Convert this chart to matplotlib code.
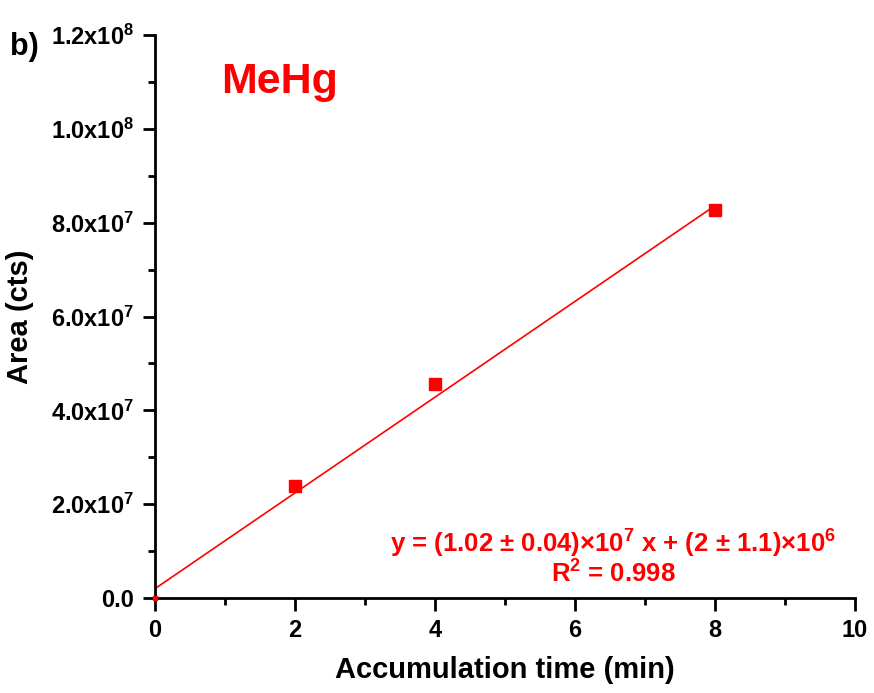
import numpy as np
import matplotlib
matplotlib.use('Agg')
from matplotlib import pyplot as plt
from matplotlib.ticker import FuncFormatter, MultipleLocator

plt.rcParams['font.family'] = ['Liberation Sans', 'DejaVu Sans']
plt.rcParams['font.weight'] = 'bold'
plt.rcParams['mathtext.fontset'] = 'custom'
plt.rcParams['mathtext.rm'] = 'Liberation Sans:bold'
plt.rcParams['mathtext.bf'] = 'Liberation Sans:bold'
plt.rcParams['mathtext.it'] = 'Liberation Sans:bold'

# accumulation time (min) and peak area (cts)
time_min = [0, 2, 4, 8]
area_cts = [0, 2.39e7, 4.56e7, 8.26e7]

# fit reported on the chart
slope = 1.02e7
intercept = 2e6
fit_x = np.array([0, 8])

red = '#ff0000'

fig = plt.figure(figsize=(8.74, 6.93), dpi=100)
ax = fig.add_axes([0.1773, 0.137, 0.8007, 0.8125])

ax.plot(fit_x, slope * fit_x + intercept, color=red, lw=1.2, zorder=2)
ax.plot(time_min[1:], area_cts[1:], 's', color=red, ms=8.5, zorder=3)
ax.plot(time_min[:1], area_cts[:1], 's', color=red, ms=2.5, zorder=3, clip_on=False)

ax.set_xlim(0, 10)
ax.set_ylim(0, 1.2e8)
ax.xaxis.set_major_locator(MultipleLocator(2))
ax.xaxis.set_minor_locator(MultipleLocator(1))
ax.yaxis.set_major_locator(MultipleLocator(2e7))
ax.yaxis.set_minor_locator(MultipleLocator(1e7))


def sci_fmt(v, pos):
    if v == 0:
        return '0.0'
    e = int(np.floor(np.log10(abs(v))))
    m = v / 10 ** e
    return r'$\mathbf{%.1fx10^{%d}}$' % (m, e)


ax.yaxis.set_major_formatter(FuncFormatter(sci_fmt))

for s in ['top', 'right']:
    ax.spines[s].set_visible(False)
for s in ['left', 'bottom']:
    ax.spines[s].set_linewidth(2)

ax.tick_params(which='major', direction='out', length=9, width=2, labelsize=17, pad=6)
ax.tick_params(which='minor', direction='out', length=5, width=2)
for lab in ax.get_xticklabels() + ax.get_yticklabels():
    lab.set_fontweight('bold')

ax.set_xlabel('Accumulation time (min)', fontsize=21, fontweight='bold', labelpad=10)
ax.set_ylabel('Area (cts)', fontsize=21, fontweight='bold', labelpad=12)

ax.text(0.095, 0.917, 'MeHg', transform=ax.transAxes, color=red, fontsize=31,
        fontweight='bold', va='center', ha='left')
fig.text(0.012, 0.932, 'b)', fontsize=22, fontweight='bold', va='center', ha='left')

ax.text(0.655, 0.097, 'y = (1.02 ± 0.04)×10$^{7}$ x + (2 ± 1.1)×10$^{6}$',
        transform=ax.transAxes, color=red, fontsize=18.5, fontweight='bold',
        ha='center', va='center')
ax.text(0.655, 0.042, 'R$^{2}$ = 0.998', transform=ax.transAxes,
        color=red, fontsize=18.5, fontweight='bold', ha='center', va='center')

plt.savefig('out.png', dpi=100)
